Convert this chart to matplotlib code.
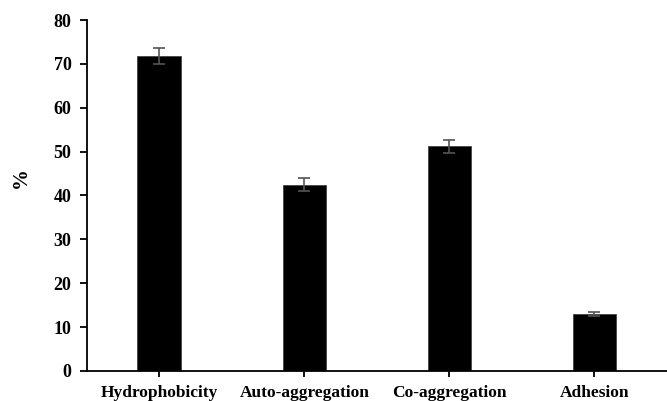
import matplotlib
matplotlib.use("Agg")
import matplotlib.pyplot as plt

# --- data ---
categories = ["Hydrophobicity", "Auto-aggregation", "Co-aggregation", "Adhesion"]
values = [71.8, 42.5, 51.2, 13.0]
errors = [1.8, 1.5, 1.5, 0.5]
yticks = [0, 10, 20, 30, 40, 50, 60, 70, 80]

plt.rcParams["font.family"] = ["Liberation Serif", "DejaVu Serif"]
plt.rcParams["font.weight"] = "bold"

fig = plt.figure(figsize=(6.67, 4.01), dpi=100)
ax = fig.add_axes([0.130, 0.075, 0.870, 0.875])

x = range(len(categories))
ax.bar(x, values, width=0.30, color="black", edgecolor="#444444", linewidth=0.6,
       yerr=errors, error_kw=dict(ecolor="#555555", elinewidth=1.2, capsize=4, capthick=1.2))

ax.set_xlim(-0.5, 3.5)
ax.set_ylim(0, 80)
ax.set_yticks(yticks)
ax.set_xticks(list(x))
ax.set_xticklabels(categories, fontsize=12.5, fontweight="bold")
ax.set_yticklabels([str(t) for t in yticks], fontsize=13, fontweight="bold")
ax.set_ylabel("%", fontsize=15, fontweight="bold")
ax.yaxis.set_label_coords(-0.096, 0.55)

for side in ("top", "right"):
    ax.spines[side].set_visible(False)
for side in ("left", "bottom"):
    ax.spines[side].set_linewidth(1.3)
ax.tick_params(axis="y", direction="out", length=5, width=1.3, pad=6)
ax.tick_params(axis="x", direction="out", length=4, width=1.3, pad=6)

fig.savefig("out.png", dpi=100)
plt.close(fig)
